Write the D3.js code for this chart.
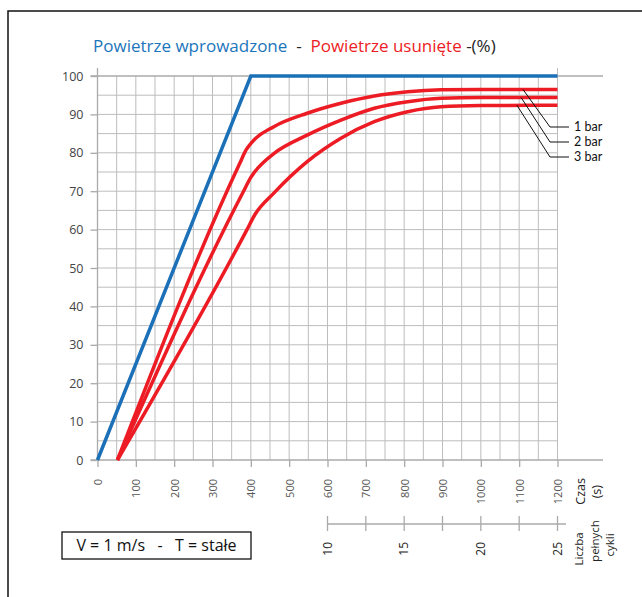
<!DOCTYPE html>
<html>
<head>
<meta charset="utf-8">
<script src="https://cdn.jsdelivr.net/npm/d3@7"></script>
<style>
  body { margin: 0; background: #fff; }
  svg { font-family: "Open Sans", sans-serif; }
</style>
</head>
<body>
<svg id="chart" width="642" height="597"></svg>
<script>
// time ticks (s) and percentage ticks
var timeTicks = [0, 100, 200, 300, 400, 500, 600, 700, 800, 900, 1000, 1100, 1200];
var pctTicks = [0, 10, 20, 30, 40, 50, 60, 70, 80, 90, 100];
var cycleTicks = [10, 12.5, 15, 17.5, 20, 22.5, 25];
var cycleLabels = [10, 15, 20, 25];

// air introduced
var inTime = [0, 400, 1200];
var inPct = [0, 100, 100];

// air removed, one series per pressure
var barNames = ["1 bar", "2 bar", "3 bar"];
var out1Time = [52, 370, 388, 405, 460, 547, 635, 722, 809, 896, 1000, 1200];
var out1Pct = [0, 77, 80.8, 83, 86.8, 90.3, 92.9, 94.8, 95.9, 96.4, 96.5, 96.5];
var out2Time = [52, 380, 400, 420, 460, 547, 635, 722, 809, 896, 1000, 1200];
var out2Pct = [0, 69.8, 73.6, 76.2, 79.8, 84.6, 88.5, 91.6, 93.3, 94.2, 94.4, 94.4];
var out3Time = [52, 390, 410, 460, 547, 635, 722, 809, 896, 1000, 1200];
var out3Pct = [0, 60, 63.8, 69.5, 77.7, 83.8, 88.1, 90.7, 92, 92.3, 92.4];

var svg = d3.select("#chart");

var x = d3.scaleLinear().domain([0, 1200]).range([97.5, 557.5]);
var y = d3.scaleLinear().domain([0, 100]).range([460, 76]);
var c = d3.scaleLinear().domain([10, 25]).range([x(600), x(1200)]);

// outer frame
svg.append("rect")
    .attr("x", 8).attr("y", 11)
    .attr("width", 700).attr("height", 700)
    .attr("fill", "none").attr("stroke", "#111").attr("stroke-width", 1.5);

// title
var title = svg.append("text")
    .attr("x", 93).attr("y", 52)
    .style("font-size", "17px")
    .style("white-space", "pre");
title.append("tspan").attr("fill", "#1b75bb").text("Powietrze wprowadzone");
title.append("tspan").attr("fill", "#222").text("  -  ");
title.append("tspan").attr("fill", "#ed1c24").text("Powietrze usunięte");
title.append("tspan").attr("fill", "#222").text(" -(%)");

// grid
var grid = svg.append("g").attr("stroke", "#bdbdbd").attr("stroke-width", 1);
grid.selectAll("line.v")
    .data(d3.range(50, 1201, 50))
    .enter().append("line")
    .attr("x1", function(d) { return x(d); })
    .attr("x2", function(d) { return x(d); })
    .attr("y1", y(0))
    .attr("y2", function(d) { return d == 1200 ? y(100) - 8 : y(100); });
grid.selectAll("line.h")
    .data(d3.range(5, 100, 5))
    .enter().append("line")
    .attr("x1", x(0)).attr("x2", x(1200))
    .attr("y1", function(d) { return y(d); })
    .attr("y2", function(d) { return y(d); });

// long lines at 0 and 100
svg.selectAll("line.edge")
    .data([0, 100])
    .enter().append("line")
    .attr("x1", x(0) - 7).attr("x2", 603)
    .attr("y1", function(d) { return y(d); })
    .attr("y2", function(d) { return y(d); })
    .attr("stroke", "#aaa").attr("stroke-width", 1.3);

// y axis
svg.append("line")
    .attr("x1", x(0)).attr("x2", x(0))
    .attr("y1", y(0)).attr("y2", y(100) - 8)
    .attr("stroke", "#aaa").attr("stroke-width", 1.3);

var yAxis = svg.append("g")
    .attr("transform", "translate(" + x(0) + ",0)")
    .call(d3.axisLeft(y).tickValues(pctTicks).tickSize(7).tickPadding(7));
yAxis.select(".domain").remove();
yAxis.selectAll("line").attr("stroke", "#aaa").attr("stroke-width", 1.3);
yAxis.selectAll("text")
    .attr("fill", "#444")
    .style("font-size", "12.5px")
    .style("font-family", "Open Sans, sans-serif");

// x axis
var xAxis = svg.append("g")
    .attr("transform", "translate(0," + y(0) + ")")
    .call(d3.axisBottom(x).tickValues(timeTicks).tickSize(7).tickFormat(d3.format("d")));
xAxis.select(".domain").remove();
xAxis.selectAll("line").attr("stroke", "#aaa").attr("stroke-width", 1.3);
xAxis.selectAll("text")
    .attr("transform", "rotate(-90)")
    .attr("x", -19).attr("y", 0).attr("dy", "0.35em")
    .style("text-anchor", "end")
    .attr("fill", "#555")
    .style("font-size", "11px")
    .style("font-family", "Open Sans, sans-serif");

var czas = svg.append("text")
    .attr("transform", "translate(585,478) rotate(-90)")
    .attr("text-anchor", "end")
    .attr("fill", "#222")
    .style("font-size", "12.5px");
czas.append("tspan").attr("x", 0).attr("dy", 0).text("Czas");
czas.append("tspan").attr("x", -7).attr("dy", 16).text("(s)");

// cycles axis
var cAxis = svg.append("g").attr("transform", "translate(0,524)");
cAxis.append("line")
    .attr("x1", c(10)).attr("x2", 566)
    .attr("stroke", "#aaa").attr("stroke-width", 1.5);
cAxis.selectAll("line.t")
    .data(cycleTicks)
    .enter().append("line")
    .attr("x1", function(d) { return c(d); })
    .attr("x2", function(d) { return c(d); })
    .attr("y1", -8).attr("y2", 7)
    .attr("stroke", "#aaa").attr("stroke-width", 1.3);
cAxis.selectAll("text")
    .data(cycleLabels)
    .enter().append("text")
    .attr("transform", function(d) { return "translate(" + c(d) + ",18) rotate(-90)"; })
    .attr("dy", "0.35em")
    .attr("text-anchor", "end")
    .attr("fill", "#222")
    .style("font-size", "12px")
    .text(function(d) { return d; });

var cyc = svg.append("text")
    .attr("transform", "translate(583,545) rotate(-90)")
    .attr("text-anchor", "middle")
    .attr("fill", "#222")
    .style("font-size", "11.5px");
cyc.append("tspan").attr("x", -4).attr("dy", 0).text("Liczba");
cyc.append("tspan").attr("x", 4).attr("dy", 15.5).text("pełnych");
cyc.append("tspan").attr("x", 0).attr("dy", 15.5).text("cykli");

// condition box
svg.append("rect")
    .attr("x", 62).attr("y", 532)
    .attr("width", 189).attr("height", 27)
    .attr("fill", "none").attr("stroke", "#111").attr("stroke-width", 1.3);
svg.append("text")
    .attr("x", 156.5).attr("y", 551)
    .attr("text-anchor", "middle")
    .attr("fill", "#111")
    .style("font-size", "16px")
    .style("white-space", "pre")
    .text("V = 1 m/s   -   T = stałe");

// lines
var line = d3.line()
    .x(function(d) { return x(d[0]); })
    .y(function(d) { return y(d[1]); });
var curve = d3.line()
    .x(function(d) { return x(d[0]); })
    .y(function(d) { return y(d[1]); })
    .curve(d3.curveMonotoneX);

svg.append("path")
    .datum(d3.zip(inTime, inPct))
    .attr("d", line)
    .attr("fill", "none")
    .attr("stroke", "#1b70b8")
    .attr("stroke-width", 3.5);

var outs = [d3.zip(out1Time, out1Pct), d3.zip(out2Time, out2Pct), d3.zip(out3Time, out3Pct)];
svg.selectAll("path.out")
    .data(outs)
    .enter().append("path")
    .attr("d", curve)
    .attr("fill", "none")
    .attr("stroke", "#ed1c24")
    .attr("stroke-width", 3.5);

// leader lines to pressure labels
var leadT = [1110, 1105, 1094];
var labelY = [127, 142, 157];
barNames.forEach(function(name, i) {
    var s = outs[i];
    var yy = y(s[s.length - 1][1]);
    svg.append("polyline")
        .attr("points", [x(leadT[i]), yy, 550, labelY[i], 569, labelY[i]].join(","))
        .attr("fill", "none")
        .attr("stroke", "#111")
        .attr("stroke-width", 1);
    svg.append("text")
        .attr("x", 574).attr("y", labelY[i])
        .attr("dy", "0.35em")
        .attr("fill", "#111")
        .style("font-family", "Lato, sans-serif")
        .style("font-size", "12.5px")
        .text(name);
});
</script>
</body>
</html>
